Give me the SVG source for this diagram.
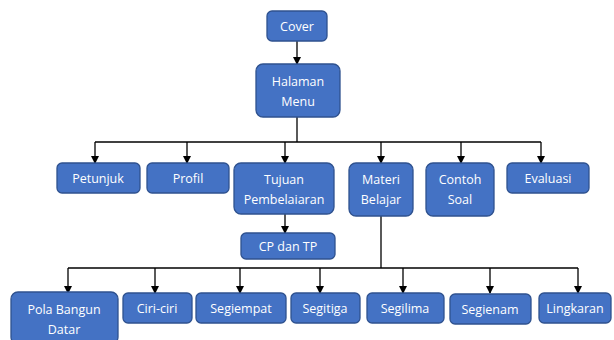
<svg xmlns="http://www.w3.org/2000/svg" width="614" height="340" viewBox="0 0 614 340">
<defs>
<marker id="ah" markerWidth="8" markerHeight="8" refX="7" refY="4" orient="auto" markerUnits="userSpaceOnUse">
<path d="M0,0 L8,4 L0,8 Z" fill="#000"/>
</marker>
<style>
.box{fill:#4472C4;stroke:#2F528F;stroke-width:1.3}
.t{font-family:"Open Sans","Liberation Sans",sans-serif;font-size:12.5px;fill:#fff;text-anchor:middle;dominant-baseline:central}
.c{fill:none;stroke:#000;stroke-width:1.3}
.a{fill:none;stroke:#000;stroke-width:1.3;marker-end:url(#ah)}
</style>
</defs>
<rect width="614" height="340" fill="#fff"/>
<g id="connectors">
<line class="a" x1="297" y1="41" x2="297" y2="64"/>
<line class="c" x1="297" y1="117" x2="297" y2="142"/>
<line class="c" x1="95" y1="142" x2="541" y2="142"/>
<line class="a" x1="95" y1="142" x2="95" y2="163"/>
<line class="a" x1="187" y1="142" x2="187" y2="163"/>
<line class="a" x1="285" y1="142" x2="285" y2="163"/>
<line class="a" x1="381" y1="142" x2="381" y2="163"/>
<line class="a" x1="461" y1="142" x2="461" y2="163"/>
<line class="a" x1="541" y1="142" x2="541" y2="163"/>
<line class="a" x1="285" y1="214" x2="285" y2="233"/>
<line class="c" x1="381" y1="216" x2="381" y2="268"/>
<line class="c" x1="68" y1="268" x2="578" y2="268"/>
<line class="a" x1="68" y1="268" x2="68" y2="293"/>
<line class="a" x1="155" y1="268" x2="155" y2="293"/>
<line class="a" x1="240" y1="268" x2="240" y2="293"/>
<line class="a" x1="320" y1="268" x2="320" y2="293"/>
<line class="a" x1="403" y1="268" x2="403" y2="293"/>
<line class="a" x1="490" y1="268" x2="490" y2="293"/>
<line class="a" x1="578" y1="268" x2="578" y2="293"/>
</g>
<g id="cover"><rect class="box" x="267" y="11" width="60" height="30" rx="5"/><text class="t" x="297" y="26">Cover</text></g>
<g id="menu"><rect class="box" x="256" y="64" width="84" height="53" rx="7"/><text class="t" x="298" y="81">Halaman</text><text class="t" x="298" y="101">Menu</text></g>
<g id="petunjuk"><rect class="box" x="57" y="163" width="83" height="30" rx="5"/><text class="t" x="98" y="178">Petunjuk</text></g>
<g id="profil"><rect class="box" x="147" y="163" width="82" height="30" rx="5"/><text class="t" x="188" y="178">Profil</text></g>
<g id="tujuan"><rect class="box" x="234" y="163" width="100" height="51" rx="7"/><text class="t" x="284" y="179">Tujuan</text><text class="t" x="284" y="199">Pembelaiaran</text></g>
<g id="materi"><rect class="box" x="349" y="163" width="64" height="53" rx="7"/><text class="t" x="381" y="179">Materi</text><text class="t" x="381" y="199">Belajar</text></g>
<g id="contoh"><rect class="box" x="426" y="163" width="68" height="53" rx="7"/><text class="t" x="460" y="179">Contoh</text><text class="t" x="460" y="199">Soal</text></g>
<g id="evaluasi"><rect class="box" x="507" y="163" width="82" height="30" rx="5"/><text class="t" x="548" y="178">Evaluasi</text></g>
<g id="cptp"><rect class="box" x="241" y="233" width="94" height="26" rx="5"/><text class="t" x="288" y="246">CP dan TP</text></g>
<g id="pola"><rect class="box" x="11" y="292" width="107" height="52" rx="7"/><text class="t" x="64" y="309">Pola Bangun</text><text class="t" x="64" y="329">Datar</text></g>
<g id="ciri"><rect class="box" x="123" y="293" width="69" height="30" rx="5"/><text class="t" x="157" y="308">Ciri-ciri</text></g>
<g id="segiempat"><rect class="box" x="196" y="293" width="90" height="30" rx="5"/><text class="t" x="241" y="308">Segiempat</text></g>
<g id="segitiga"><rect class="box" x="291" y="293" width="69" height="30" rx="5"/><text class="t" x="325" y="308">Segitiga</text></g>
<g id="segilima"><rect class="box" x="367" y="293" width="77" height="30" rx="5"/><text class="t" x="405" y="308">Segilima</text></g>
<g id="segienam"><rect class="box" x="450" y="294" width="81" height="30" rx="5"/><text class="t" x="490" y="309">Segienam</text></g>
<g id="lingkaran"><rect class="box" x="539" y="293" width="72" height="30" rx="5"/><text class="t" x="575" y="308">Lingkaran</text></g>
</svg>
